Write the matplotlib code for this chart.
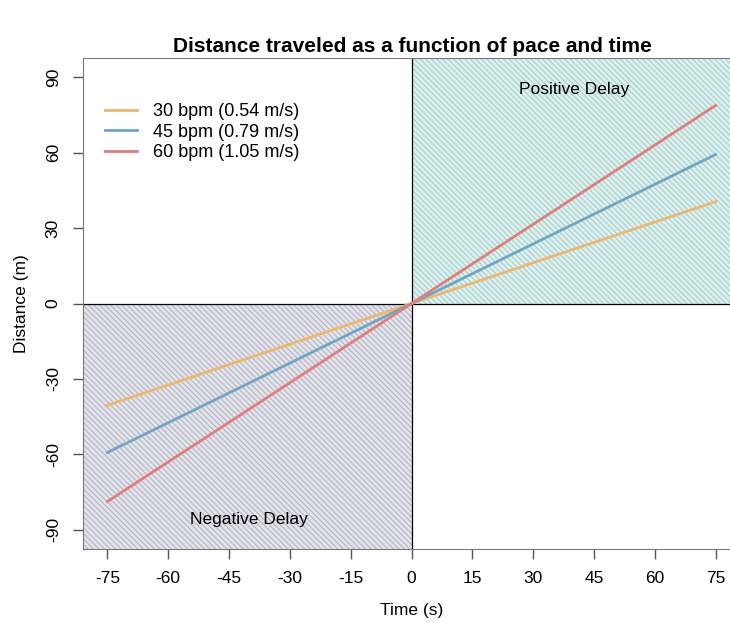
import numpy as np
import matplotlib.pyplot as plt
from matplotlib.patches import Rectangle

plt.rcParams['font.family'] = ['Liberation Sans', 'DejaVu Sans']
plt.rcParams['hatch.linewidth'] = 0.6
plt.rcParams['axes.unicode_minus'] = False

# pace data
labels = ["30 bpm (0.54 m/s)", "45 bpm (0.79 m/s)", "60 bpm (1.05 m/s)"]
speeds = [0.54, 0.79, 1.05]
colors = ["#EBB873", "#72A5C4", "#E27D7D"]
times = [-75, 75]
xticks = [-75, -60, -45, -30, -15, 0, 15, 30, 45, 60, 75]
yticks = [-90, -60, -30, 0, 30, 60, 90]

fig = plt.figure(figsize=(7.3, 6.23), dpi=100)
ax = fig.add_axes([0.1137, 0.1188, 0.9, 0.788])
xlim = (-81, 81)
ylim = (-97.6, 97.6)
ax.set_xlim(xlim)
ax.set_ylim(ylim)

# shaded quadrants
ax.add_patch(Rectangle((0, 0), xlim[1], ylim[1], facecolor="#dcefed",
                       edgecolor="#96c9c4", hatch="\\\\\\\\\\\\", lw=0, zorder=0))
ax.add_patch(Rectangle((xlim[0], ylim[0]), -xlim[0], -ylim[0], facecolor="#e2e2ea",
                       edgecolor="#aaaab8", hatch="\\\\\\\\\\\\", lw=0, zorder=0))

ax.axhline(0, color="black", lw=0.9, zorder=1)
ax.axvline(0, color="black", lw=0.9, zorder=1)

for lab, s, c in zip(labels, speeds, colors):
    ax.plot(times, [s * t for t in times], color=c, lw=2, label=lab, zorder=2)

ax.text(40, 85, "Positive Delay", ha="center", va="center", fontsize=12.5)
ax.text(-40, -86, "Negative Delay", ha="center", va="center", fontsize=12.5)

ax.set_xticks(xticks)
ax.set_yticks(yticks)
ax.set_yticklabels([str(v) for v in yticks], rotation=90, va="center")
ax.tick_params(labelsize=12.5, length=7, color="#555555", width=1, pad=9)
for sp in ax.spines.values():
    sp.set_color("#777777")

ax.set_xlabel("Time (s)", fontsize=12.5, labelpad=12)
ax.set_ylabel("Distance (m)", fontsize=12.5, labelpad=12)
fig.suptitle("Distance traveled as a function of pace and time", x=0.565, y=0.94,
             fontsize=15, fontweight="bold")

ax.legend(loc="upper left", bbox_to_anchor=(0.011, 0.937), frameon=False, fontsize=13,
          handlelength=1.8, handletextpad=0.85, labelspacing=0.18, borderaxespad=0.4)

fig.savefig("out.png", dpi=100)
